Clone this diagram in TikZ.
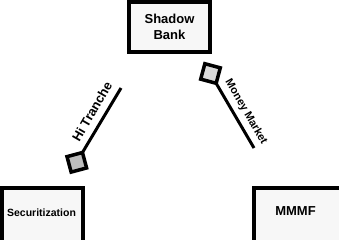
\documentclass[tikz,border=0pt]{standalone}
\usepackage{fontspec}
\setmainfont{Liberation Sans}
\definecolor{boxfill}{HTML}{F7F7F7}
\definecolor{hifill}{HTML}{BDBDBD}
\definecolor{mmfill}{HTML}{DADADA}
\begin{document}
\begin{tikzpicture}[x=1pt,y=-1pt,
  entity/.style={draw=black, line width=4pt, fill=boxfill, inner sep=0pt, outer sep=0pt,
    minimum width=81pt},
  caption/.style={font=\bfseries\fontsize{#1}{16pt}\selectfont, inner sep=0pt, align=center},
  sqtip/.style={draw=black, line width=3.5pt, minimum size=16pt, inner sep=0pt, outer sep=0pt},
  conn/.style={draw=black, line width=3pt}
]
\useasboundingbox (0,0) rectangle (339,240);
\clip (0,0) rectangle (339,240);

% entity boxes
\node[entity, minimum height=50pt] (shadow) at (169.5,27) {};
\node[caption=13pt] (shadowText) at (shadow.center) {Shadow\\Bank};

\node[entity, minimum height=62pt, anchor=north] (sec) at (42.5,188) {};
\node[caption=10.5pt] (secText) at (41.5,213) {Securitization};

\node[entity, minimum width=87pt, minimum height=62pt, anchor=north] (mmmf) at (297.5,188) {};
\node[caption=13pt] (mmmfText) at (295.5,211.5) {MMMF};

% Hi Tranche link
\node[sqtip, fill=hifill, rotate=15] (hiSq) at (76.8,162.3) {};
\coordinate (hiEnd) at (121,88);
\draw[conn] (hiSq.north east) -- (hiEnd);
\node[caption=13pt, rotate=60] (hiText) at (92,111.5) {Hi Tranche};

% Money Market link
\node[sqtip, fill=mmfill, rotate=-15] (mmSq) at (210.5,73.5) {};
\coordinate (mmEnd) at (254,148);
\draw[conn] (mmSq.south east) -- (mmEnd);
\node[caption=11pt, rotate=-60] (mmText) at (246,112) {Money Market};
\end{tikzpicture}
\end{document}
